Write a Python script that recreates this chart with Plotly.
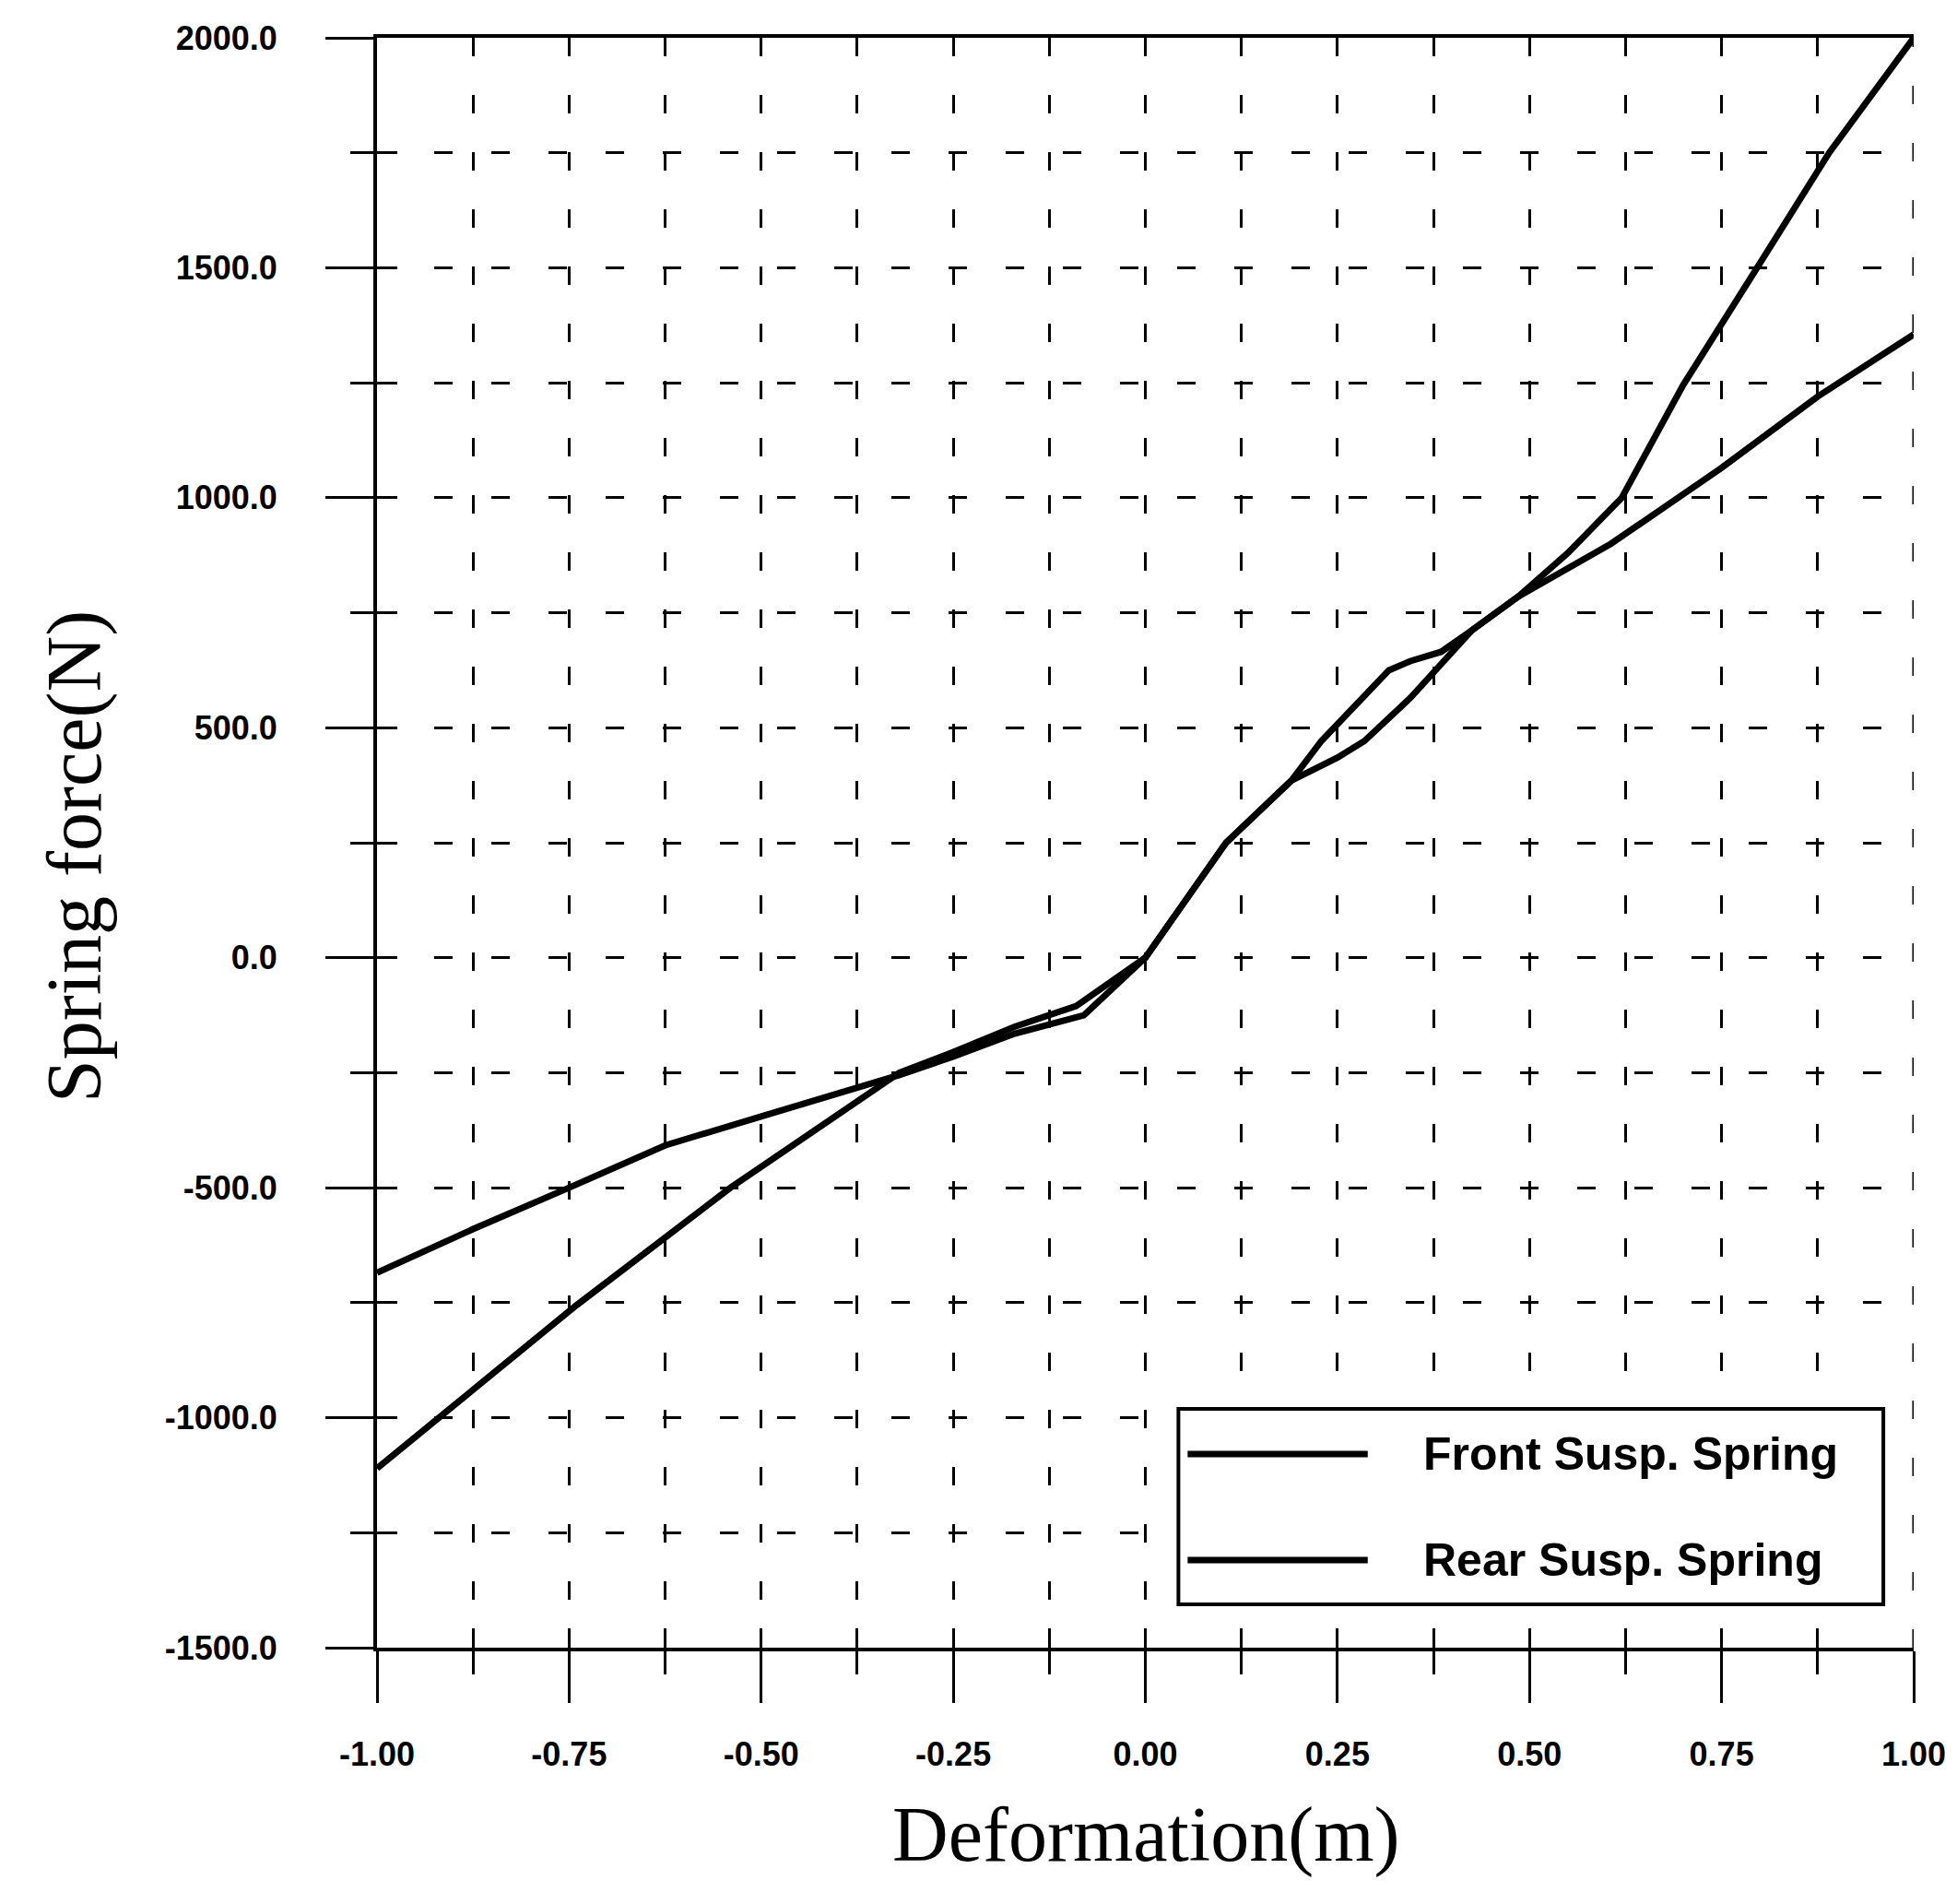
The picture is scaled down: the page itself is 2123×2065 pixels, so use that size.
import plotly.graph_objects as go

# Spring characteristic curves: deformation (m) vs. spring force (N)
front_deformation = [-1.0, -0.92, -0.74, -0.54, -0.32, -0.25, -0.17, -0.09, 0.0,
                     0.105, 0.19, 0.25, 0.285, 0.345, 0.397, 0.425, 0.486, 0.55,
                     0.62, 0.70, 0.80, 0.89, 1.0]
front_force = [-1110, -1000, -755, -500, -250, -205, -150, -105, 0,
               250, 385, 435, 471, 565, 659, 712, 786, 880,
               1000, 1245, 1510, 1750, 2000]

rear_deformation = [-1.0, -0.875, -0.75, -0.625, -0.5, -0.375, -0.32, -0.25, -0.17,
                    -0.08, 0.0, 0.105, 0.19, 0.229, 0.293, 0.317, 0.345, 0.385,
                    0.425, 0.486, 0.606, 0.75, 0.875, 1.0]
rear_force = [-685, -590, -500, -408, -345, -285, -255, -215, -165,
              -125, 0, 250, 385, 471, 585, 625, 645, 665,
              712, 786, 900, 1065, 1220, 1355]

series_names = ["Front Susp. Spring", "Rear Susp. Spring"]

x_tick_vals = [-1.0, -0.75, -0.5, -0.25, 0.0, 0.25, 0.5, 0.75, 1.0]
x_tick_text = ["-1.00", "-0.75", "-0.50", "-0.25", "0.00", "0.25", "0.50", "0.75", "1.00"]
y_tick_vals = [2000, 1500, 1000, 500, 0, -500, -1000, -1500]
y_tick_text = ["2000.0", "1500.0", "1000.0", "500.0", "0.0", "-500.0", "-1000.0", "-1500.0"]

x_title = "Deformation(m)"
y_title = "Spring force(N)"

X_RANGE = [-1.0, 1.0]
Y_RANGE = [-1500, 2000]

W, H = 2123, 2065
ML, MR, MT, MB = 409, 42, 41, 278
PW, PH = W - ML - MR, H - MT - MB

TICK_FONT = dict(family="Liberation Sans, Arial, sans-serif", size=36, color="black",
                 weight="bold")
TITLE_FONT = dict(family="Liberation Serif, DejaVu Serif, serif", size=84, color="black")
LEGEND_FONT = dict(family="Liberation Sans, Arial, sans-serif", size=50, color="black",
                   weight="bold")
GRID_DASH = "20px,42px"
CURVE_WIDTH = 7


def px_x(p):
    return (p - ML) / PW


def px_y(p):
    return (MT + PH - p) / PH


fig = go.Figure()

fig.add_trace(go.Scatter(x=front_deformation, y=front_force, mode="lines",
                         name=series_names[0], line=dict(color="black", width=CURVE_WIDTH),
                         showlegend=False))
fig.add_trace(go.Scatter(x=rear_deformation, y=rear_force, mode="lines",
                         name=series_names[1], line=dict(color="black", width=CURVE_WIDTH),
                         showlegend=False))
# empty trace that carries the overlay axes used for the inward tick marks
fig.add_trace(go.Scatter(x=[], y=[], xaxis="x2", yaxis="y2", showlegend=False,
                         hoverinfo="skip"))

fig.update_layout(
    width=W, height=H, autosize=False,
    margin=dict(l=ML, r=MR, t=MT, b=MB, pad=0),
    paper_bgcolor="white", plot_bgcolor="white",
    showlegend=False,
    xaxis=dict(
        range=X_RANGE, showline=True, linecolor="black", linewidth=4, mirror=True,
        ticks="outside", ticklen=56, tickwidth=3, tickcolor="black",
        tickmode="array", tickvals=x_tick_vals, ticktext=x_tick_text,
        tickfont=TICK_FONT, ticklabelstandoff=25, ticklabeloverflow="allow",
        showgrid=True, gridcolor="black", gridwidth=3, griddash=GRID_DASH,
        zeroline=False,
        minor=dict(tickmode="linear", tick0=-1.0, dtick=0.125, ticks="outside",
                   ticklen=25, tickwidth=3, tickcolor="black",
                   showgrid=True, gridcolor="black", gridwidth=3, griddash=GRID_DASH),
    ),
    yaxis=dict(
        range=Y_RANGE, showline=True, linecolor="black", linewidth=4, mirror=False,
        ticks="outside", ticklen=52, tickwidth=3, tickcolor="black",
        tickmode="array", tickvals=y_tick_vals, ticktext=y_tick_text,
        tickfont=TICK_FONT, ticklabelstandoff=45, ticklabeloverflow="allow",
        showgrid=True, gridcolor="black", gridwidth=3, griddash=GRID_DASH,
        zeroline=False,
        minor=dict(tickmode="linear", tick0=-1500, dtick=250, ticks="outside",
                   ticklen=25, tickwidth=3, tickcolor="black",
                   showgrid=True, gridcolor="black", gridwidth=3, griddash=GRID_DASH),
    ),
    xaxis2=dict(
        range=X_RANGE, overlaying="x", anchor="y2", side="bottom",
        ticks="inside", ticklen=21, tickwidth=3, tickcolor="black",
        tickmode="linear", tick0=-1.0, dtick=0.125,
        showticklabels=False, showgrid=False, showline=False, zeroline=False,
    ),
    yaxis2=dict(
        range=Y_RANGE, overlaying="y", anchor="x2", side="left",
        ticks="inside", ticklen=22, tickwidth=3, tickcolor="black",
        tickmode="linear", tick0=-1500, dtick=250,
        showticklabels=False, showgrid=False, showline=False, zeroline=False,
    ),
)

# dashed grid line along the right edge of the plot (x = 1.0)
fig.add_shape(type="line", xref="x", yref="y",
              x0=X_RANGE[1], x1=X_RANGE[1], y0=Y_RANGE[0], y1=Y_RANGE[1],
              line=dict(color="black", width=3, dash=GRID_DASH), layer="below")

# axis titles
fig.add_annotation(text=x_title, xref="paper", yref="paper", x=0.5, y=px_y(1990),
                   xanchor="center", yanchor="middle", showarrow=False, font=TITLE_FONT)
fig.add_annotation(text=y_title, xref="paper", yref="paper", x=px_x(80), y=px_y(929),
                   xanchor="center", yanchor="middle", showarrow=False, textangle=-90,
                   font=TITLE_FONT)

# legend box drawn inside the plot area
fig.add_shape(type="rect", xref="paper", yref="paper",
              x0=px_x(1281), x1=px_x(2048), y0=px_y(1740), y1=px_y(1528),
              line=dict(color="black", width=4), fillcolor="white", layer="above")
legend_rows = [1577, 1692]
for name, row in zip(series_names, legend_rows):
    fig.add_shape(type="line", xref="paper", yref="paper",
                  x0=px_x(1291), x1=px_x(1487), y0=px_y(row), y1=px_y(row),
                  line=dict(color="black", width=CURVE_WIDTH), layer="above")
    fig.add_annotation(text=name, xref="paper", yref="paper", x=px_x(1545), y=px_y(row),
                       xanchor="left", yanchor="middle", showarrow=False, font=LEGEND_FONT)

fig.write_html("out.html")
